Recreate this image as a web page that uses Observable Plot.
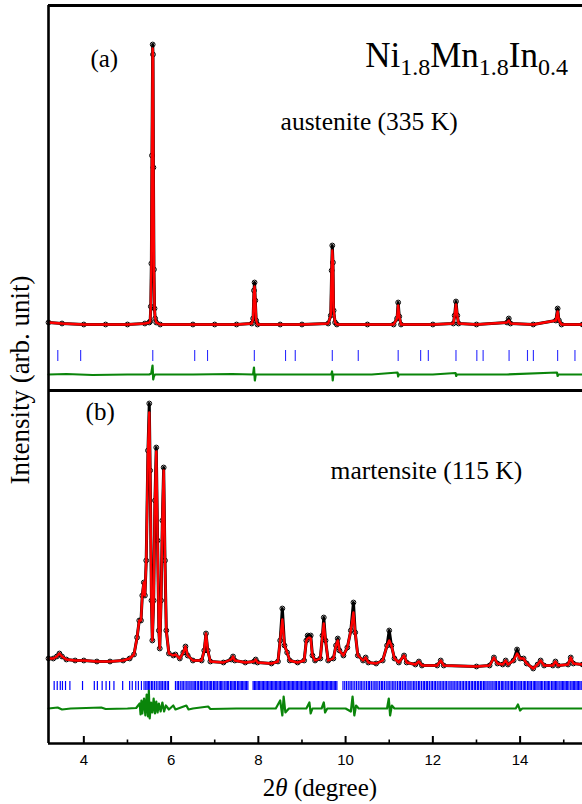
<!DOCTYPE html>
<html><head><meta charset="utf-8">
<script src="https://cdn.jsdelivr.net/npm/d3@7"></script>
<script src="https://cdn.jsdelivr.net/npm/@observablehq/plot@0.6"></script>
<style>body{margin:0;background:#fff}#chart{width:582px;height:804px}</style>
</head><body><div id="chart"></div>
<script>
// ---- (a) austenite (335 K) ----
const aTheta = [3.19,3.5,4.0,4.5,5.0,5.4,5.5,5.52,5.535,5.548,5.562,5.578,5.585,5.595,5.607,5.62,5.635,5.66,5.75,6.5,7.0,7.5,7.85,7.88,7.90,7.913,7.93,7.95,7.98,8.5,9.0,9.6,9.66,9.68,9.695,9.71,9.725,9.76,9.8,10.5,11.1,11.18,11.205,11.23,11.27,12.0,12.47,12.50,12.53,12.56,12.59,13.0,13.70,13.74,13.78,14.3,14.82,14.86,14.89,14.95,15.43];
const aObs  = [8,7,6,6,6,7,8,9,24,67,175,286,276,163,61,22,12,8,6,6,6,6,7,12,40,48,30,10,6,6,6,7,15,60,85,68,20,8,6,6,6,12,28,14,6,6,7,15,29,15,7,6,8,12,7,6,10,22,10,6,6];
const aCalc = [8,7,6,6,6,7,8,9,24,67,175,282,272,163,61,22,12,8,6,6,6,6,7,12,38,44,30,10,6,6,6,7,15,60,80,68,20,8,6,6,6,12,25,14,6,6,7,15,26,15,7,6,8,10,7,6,10,19,10,6,6];
const aDiffTheta = [3.19,3.6,4.2,5.0,5.5,5.545,5.56,5.575,5.59,5.605,5.63,6.5,7.4,7.88,7.90,7.92,7.94,8.8,9.67,9.69,9.705,9.72,10.6,11.19,11.205,11.22,12.0,12.52,12.535,12.55,13.7,14.845,14.86,14.875,15.43];
const aDiff = [0,0.5,-0.5,0,0,1,5,9,-5,-2,0,0,0.5,0,7,-6,0,0,0,3,-6,0,0,2,-2,0,0,1.5,-1.5,0,0,2,-1.5,0,0];
const aBragg = [3.403,3.927,5.58,6.541,6.835,7.908,8.623,8.846,9.695,10.29,11.205,11.72,11.896,12.53,13.008,13.152,13.747,14.169,14.304,14.86,15.257];

// ---- (b) martensite (115 K) ----
const bTheta = [3.19,3.30,3.38,3.44,3.50,3.60,3.8,4.0,4.3,4.6,
 4.9,5.05,5.15,5.22,5.27,5.31,5.34,5.375,5.40,5.43,
 5.47,5.50,5.52,5.55,5.57,5.60,5.63,5.66,5.69,5.72,
 5.74,5.77,5.80,5.83,5.86,5.89,5.95,6.05,6.1,6.2,
 6.28,6.33,6.38,6.5,6.7,6.76,6.80,6.84,6.9,7.2,
 7.38,7.42,7.46,7.7,7.9,7.94,7.98,8.3,8.45,8.5,
 8.55,8.6,8.66,8.72,8.9,9.05,9.10,9.13,9.17,9.20,
 9.24,9.3,9.42,9.47,9.50,9.54,9.6,9.72,9.78,9.82,
 9.86,9.95,10.04,10.12,10.18,10.22,10.28,10.4,10.46,10.52,
 10.7,10.85,10.95,11.0,11.05,11.12,11.22,11.34,11.4,11.6,
 11.68,11.75,12.1,12.18,12.25,13.0,13.3,13.4,13.48,13.6,
 13.67,13.72,13.85,13.93,14.0,14.08,14.15,14.3,14.4,14.47,
 14.55,14.75,14.81,14.87,15.1,15.16,15.22,15.43];
const bObs = [12,12,14,17,14,11,10,10,9,9,
 10,12,16,33,50,50,75,88,75,110,
 220,267,200,70,30,70,170,223,130,40,
 22,70,150,203,110,40,17,15,16,12,
 18,24,15,10,10,20,37,20,9,8,
 11,14,10,8,9,11,8,7,9,30,
 62,25,18,10,8,10,30,35,33,35,
 15,10,12,35,53,30,10,12,25,32,
 20,15,23,40,68,38,15,10,13,8,
 7,10,25,40,25,12,8,15,8,6,
 9,5,5,10,5,4,5,13,7,6,
 10,6,10,21,12,12,7,2,6,10,
 5,5,9,5,6,13,7,6];
const bCalc = [12,12,14,17,14,11,10,10,9,9,
 10,12,16,33,50,50,75,88,75,110,
 220,258,200,70,30,70,170,219,130,40,
 22,70,150,200,110,40,17,15,16,12,
 18,24,15,10,10,20,37,20,9,8,
 11,14,10,8,9,11,8,7,9,30,
 51,25,18,10,8,10,30,32,33,32,
 15,10,12,35,47,30,10,12,25,30,
 20,15,23,40,58,38,15,10,13,8,
 7,10,25,30,25,12,8,15,8,6,
 9,5,5,10,5,4,5,13,7,6,
 10,6,10,17,12,12,7,2,6,10,
 5,5,9,5,6,13,7,6];
const bDiffTheta = [3.19,3.4,3.5,3.7,4.4,4.5,5.0,5.2,5.28,5.3,5.32,5.34,5.38,5.41,5.44,5.47,5.49,5.51,5.54,5.57,5.60,5.63,5.66,5.69,5.72,5.76,5.80,5.84,5.88,5.95,6.05,6.1,6.35,6.4,6.5,6.85,6.9,7.5,8.4,8.5,8.55,8.58,8.62,8.7,9.1,9.17,9.2,9.24,9.45,9.5,9.53,9.58,10.0,10.12,10.16,10.2,10.24,10.3,10.95,10.99,11.02,11.06,11.12,13.9,13.95,14.0,14.05,15.43];
const bDiff = [0,1,-1,0,1,-0.5,0,0.5,5,-6,8,-5,10,-7,14,-8,18,-10,6,-4,10,-5,7,-4,5,-3,6,-3,3,-1,3,-1,3,-1,0,2,-0.5,0,0,8,-7,12,-4,0,0,6,-5,0,0,6,-4,0,0,-3,12,-7,3,0,0,10,-7,3,0,0,4,-2,0,0];
const bBragg = [3.32,3.39,3.46,3.51,3.58,3.68,3.97,
 4.24,4.31,4.42,4.51,4.59,4.69,4.89,
 5.05,5.11,5.19,5.25,5.32,5.38,5.42,5.45,5.48,5.51,5.55,5.58,5.62,5.66,5.70,5.74,5.77,5.80,5.84,5.87,5.91,5.94,
 6.10,6.14,6.17,6.21,6.25,6.28,6.32,6.36,6.39,6.43,6.46,6.50,6.53,6.56,6.60,6.63,6.67,6.70,6.73,6.77,6.80,6.83,6.87,6.90,6.93,6.97,7.00,7.03,7.06,7.10,7.13,7.16,7.19,7.23,7.26,7.29,7.32,7.36,7.39,7.42,7.45,7.48,7.52,7.55,7.58,7.61,7.64,7.67,7.70,7.73,7.76,
 7.88,7.91,7.94,7.97,8.00,8.03,8.06,8.09,8.12,8.15,8.18,8.21,8.24,8.27,8.30,8.33,8.36,8.39,8.42,8.45,8.48,8.51,8.54,8.57,8.60,8.63,8.66,8.69,8.72,8.75,8.78,8.81,8.84,8.87,8.90,8.93,8.96,8.99,9.02,9.05,9.08,9.11,9.14,9.17,9.20,9.23,9.26,9.29,9.32,9.35,9.38,9.41,9.44,9.47,9.50,9.53,9.56,9.59,9.62,9.65,9.68,9.71,9.74,9.77,9.80,
 9.94,9.98,10.02,10.06,10.10,10.13,10.17,10.21,10.25,10.29,10.33,10.36,10.40,10.44,10.48,10.52,10.55,10.59,10.63,10.67,10.70,10.74,10.78,10.82,10.85,10.89,10.93,10.97,11.00,11.04,11.08,11.11,11.15,11.19,11.23,11.26,11.30,11.34,11.37,11.41,11.45,11.48,11.52,11.56,11.59,11.63,11.67,11.70,11.74,11.78,11.81,11.85,11.88,11.92,11.96,11.99,
 12.03,12.06,12.10,12.14,12.17,12.21,12.24,12.28,12.31,12.35,12.39,12.42,12.46,12.49,12.53,12.56,12.60,12.63,12.67,12.70,12.74,12.77,12.81,12.84,12.88,12.91,12.95,12.98,13.02,13.05,13.09,13.12,13.16,13.19,13.22,13.26,13.29,13.33,13.36,13.40,13.43,13.46,13.50,13.53,13.57,13.60,13.63,13.67,13.70,13.73,13.77,13.80,13.83,13.87,13.90,13.93,13.97,
 14.00,14.03,14.07,14.10,14.13,14.17,14.20,14.23,14.26,14.30,14.33,14.36,14.39,14.43,14.46,14.49,14.52,14.56,14.59,14.62,14.65,14.68,14.72,14.75,14.78,14.81,14.84,14.87,14.91,14.94,14.97,15.00,15.03,15.06,15.09,15.12,15.16,15.19,15.22,15.25,15.28,15.31,15.34,15.37,15.40,15.43];

const majorTicks = [4,6,8,10,12,14];
const minorTicks = [5,7,9,11,13,15];

// vertical stacking of the two panels (layout offsets in intensity units)
const lay = {
  a: {obs: 413, diff: 369, bragg: [382, 393]},
  b: {obs: 73, diff: 35, bragg: [53, 62]}
};
const rows = (th, ys, off) => th.map((t, i) => ({t, y: ys[i] + off}));
const aObsRows = rows(aTheta, aObs, lay.a.obs), aCalcRows = rows(aTheta, aCalc, lay.a.obs), aDiffRows = rows(aDiffTheta, aDiff, lay.a.diff);
const bObsRows = rows(bTheta, bObs, lay.b.obs), bCalcRows = rows(bTheta, bCalc, lay.b.obs), bDiffRows = rows(bDiffTheta, bDiff, lay.b.diff);

const serif = "'Liberation Serif','Times New Roman',serif";
const sans = "'Liberation Sans',Arial,sans-serif";
const green = "#0a850a", red = "#ff0000";

const chart = Plot.plot({
  width: 582, height: 804,
  marginTop: 5, marginBottom: 61, marginLeft: 48, marginRight: 0,
  x: {domain: [3.19, 15.43], label: null},
  y: {domain: [0, 738], axis: null},
  style: {background: "white", overflow: "hidden"},
  marks: [
    Plot.ruleX(aBragg, {y1: lay.a.bragg[0], y2: lay.a.bragg[1], stroke: "#2a2aff", strokeWidth: 1.1}),
    Plot.ruleX(bBragg, {y1: lay.b.bragg[0], y2: lay.b.bragg[1], stroke: "#0000ff", strokeWidth: 1.2}),
    Plot.line(aDiffRows, {x: "t", y: "y", stroke: green, strokeWidth: 2.2}),
    Plot.line(bDiffRows, {x: "t", y: "y", stroke: green, strokeWidth: 2.2}),
    Plot.line(aObsRows, {x: "t", y: "y", stroke: "black", strokeWidth: 3}),
    Plot.line(bObsRows, {x: "t", y: "y", stroke: "black", strokeWidth: 3}),
    Plot.dot(aObsRows, {x: "t", y: "y", r: 2.4, stroke: "black", strokeWidth: 1, fill: "none"}),
    Plot.dot(bObsRows, {x: "t", y: "y", r: 2.4, stroke: "black", strokeWidth: 1, fill: "none"}),
    Plot.line(aCalcRows, {x: "t", y: "y", stroke: red, strokeWidth: 2.4}),
    Plot.line(bCalcRows, {x: "t", y: "y", stroke: red, strokeWidth: 2.4}),
    // frame
    Plot.ruleY([738], {stroke: "black", strokeWidth: 3}),
    Plot.ruleY([353], {stroke: "black", strokeWidth: 3}),
    Plot.ruleY([0], {stroke: "black", strokeWidth: 2.6}),
    Plot.ruleX([3.19], {y1: 0, y2: 738, stroke: "black", strokeWidth: 2.6}),
    Plot.ruleX(majorTicks, {y1: 0, y2: 7, stroke: "black", strokeWidth: 2}),
    Plot.ruleX(minorTicks, {y1: 0, y2: 3.5, stroke: "black", strokeWidth: 1.6}),
    Plot.axisX(majorTicks, {tickSize: 0, tickPadding: 11, fontSize: 15, fontFamily: sans, fill: "black", label: null}),
    // annotations
    Plot.text(["(a)"], {x: 4.15, y: 677, textAnchor: "start", lineAnchor: "bottom", fontSize: 25, fontFamily: serif, fill: "black"}),
    Plot.text(["austenite (335 K)"], {x: 8.51, y: 614, textAnchor: "start", lineAnchor: "bottom", fontSize: 25.5, fontFamily: serif, fill: "black"}),
    Plot.text(["(b)"], {x: 4.04, y: 324, textAnchor: "start", lineAnchor: "bottom", fontSize: 25, fontFamily: serif, fill: "black"}),
    Plot.text(["martensite (115 K)"], {x: 9.655, y: 265, textAnchor: "start", lineAnchor: "bottom", fontSize: 25.5, fontFamily: serif, fill: "black"})
  ]
});

const svg = d3.select(chart);
// compound formula with subscripts
const title = svg.append("text").attr("x", 568).attr("y", 67).attr("text-anchor", "end")
  .attr("font-family", serif).attr("font-size", 35).attr("fill", "black");
[["Ni","1.8"],["Mn","1.8"],["In","0.4"]].forEach(([el, n]) => {
  title.append("tspan").attr("dy", el === "Ni" ? 0 : -8).text(el);
  title.append("tspan").attr("font-size", 24).attr("dy", 8).text(n);
});
// x label: 2θ (degree)
const xl = svg.append("text").attr("x", 320).attr("y", 796).attr("text-anchor", "middle")
  .attr("font-family", serif).attr("font-size", 25).attr("fill", "black");
xl.append("tspan").text("2");
xl.append("tspan").attr("font-style", "italic").text("θ");
xl.append("tspan").text(" (degree)");
// y label
svg.append("text").attr("transform", "translate(29,380) rotate(-90)").attr("text-anchor", "middle")
  .attr("font-family", serif).attr("font-size", 27).attr("fill", "black").text("Intensity (arb. unit)");

document.getElementById("chart").appendChild(chart);
</script></body></html>
